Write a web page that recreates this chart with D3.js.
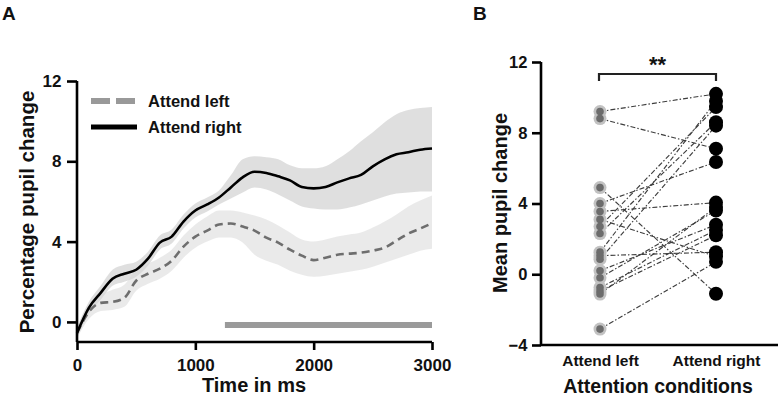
<!DOCTYPE html>
<html><head><meta charset="utf-8">
<script src="https://cdn.jsdelivr.net/npm/d3@7"></script>
<style>body{margin:0;background:#fff}svg{display:block}text{font-family:"Liberation Sans",Arial,sans-serif;font-weight:bold;fill:#111}</style>
</head><body><svg id="c" width="778" height="403"></svg>
<script>
// ---- Panel A data ----
const timeMs = [0,100,200,300,400,500,600,700,800,900,1000,1100,1200,1300,1400,1500,1600,1700,1800,1900,2000,2100,2200,2300,2400,2500,2600,2700,2800,2900,3000];
const rightMean = [-0.55,0.7,1.45,2.15,2.4,2.6,3.15,3.95,4.25,5.0,5.55,5.85,6.2,6.7,7.2,7.48,7.42,7.25,7.05,6.72,6.65,6.72,6.95,7.15,7.32,7.75,8.1,8.35,8.45,8.58,8.64];
const rightUpper = [-0.3,1.0,1.8,2.6,2.85,3.0,3.5,4.3,4.6,5.35,5.9,6.2,6.55,7.3,8.1,8.25,8.2,8.1,7.8,7.65,7.65,7.75,8.1,8.5,9.0,9.45,9.95,10.35,10.55,10.65,10.7];
const rightLower = [-0.8,0.4,1.1,1.8,2.0,2.25,2.8,3.6,3.9,4.65,5.2,5.5,5.85,6.15,6.45,6.7,6.6,6.35,6.05,5.75,5.65,5.6,5.6,5.7,5.85,6.05,6.25,6.4,6.45,6.5,6.5];
const leftMean = [-0.55,0.5,0.95,1.0,1.2,2.05,2.4,2.65,3.05,3.75,4.25,4.55,4.85,4.9,4.75,4.55,4.2,3.95,3.6,3.3,3.08,3.2,3.35,3.4,3.45,3.55,3.7,4.05,4.4,4.65,4.92];
const leftUpper = [-0.3,0.9,1.35,1.6,1.85,2.6,2.9,3.2,3.6,4.3,4.85,5.25,5.55,5.55,5.45,5.3,5.1,4.8,4.45,4.1,4.0,4.1,4.25,4.35,4.45,4.7,5.0,5.35,5.75,6.05,6.3];
const leftLower = [-0.8,0.15,0.55,0.6,0.75,1.55,1.9,2.15,2.55,3.2,3.7,4.0,4.2,4.2,3.95,3.35,3.05,2.85,2.55,2.35,2.25,2.3,2.4,2.5,2.6,2.75,2.95,3.15,3.35,3.55,3.65];
const sigWindow = [1250, 3000];
const sigLevel = -0.15;
const xTicksA = [0,1000,2000,3000];
const yTicksA = [0,4,8,12];
const legendLabels = ["Attend left","Attend right"];

// ---- Panel B data ----
const conditions = ["Attend left","Attend right"];
const subjLeft  = [9.2,8.8,4.9,4.0,3.55,3.1,2.7,2.3,1.25,0.85,1.05,0.2,-0.2,-0.75,-0.95,-1.12,-3.1];
const subjRight = [10.2,7.1,-1.1,6.35,4.05,1.0,9.45,8.6,9.8,8.4,1.25,2.8,3.6,2.5,2.2,3.8,0.7];
const yTicksB = [-4,0,4,8,12];

const svg = d3.select("#c");

// ===== Panel A =====
const xA = d3.scaleLinear().domain([0,3000]).range([77,432]);
const yA = d3.scaleLinear().domain([-1,12]).range([342,81]);
const gA = svg.append("g");
const rows = timeMs.map((t,i)=>({t, rm:rightMean[i], ru:rightUpper[i], rl:rightLower[i], lm:leftMean[i], lu:leftUpper[i], ll:leftLower[i]}));
const area = (u,l)=>d3.area().x(d=>xA(d.t)).y0(d=>yA(d[l])).y1(d=>yA(d[u])).curve(d3.curveMonotoneX);
gA.append("path").datum(rows).attr("d",area("ru","rl")).attr("fill","#c4c4c4").attr("opacity",0.55);
gA.append("path").datum(rows).attr("d",area("lu","ll")).attr("fill","#d6d6d6").attr("opacity",0.5);
const line = k=>d3.line().x(d=>xA(d.t)).y(d=>yA(d[k])).curve(d3.curveMonotoneX);
gA.append("path").datum(rows).attr("d",line("lm")).attr("fill","none").attr("stroke","#6e6e6e").attr("stroke-width",2.6).attr("stroke-dasharray","8,5");
gA.append("path").datum(rows).attr("d",line("rm")).attr("fill","none").attr("stroke","#000").attr("stroke-width",2.6);
gA.append("line").attr("x1",xA(sigWindow[0])).attr("x2",xA(sigWindow[1])).attr("y1",yA(sigLevel)).attr("y2",yA(sigLevel)).attr("stroke","#9a9a9a").attr("stroke-width",6);

const axA_x = gA.append("g").attr("transform","translate(0,342)").call(d3.axisBottom(xA).tickValues(xTicksA).tickSize(8).tickSizeOuter(0).tickFormat(d3.format("d")));
const axA_y = gA.append("g").attr("transform","translate(77,0)").call(d3.axisLeft(yA).tickValues(yTicksA).tickSize(10).tickSizeOuter(0));
[axA_x,axA_y].forEach(a=>{a.select(".domain").attr("stroke","#000").attr("stroke-width",2.6);a.selectAll(".tick line").attr("stroke","#000").attr("stroke-width",2.6);a.selectAll(".tick text").style("font-size","17px").attr("fill","#111");});
axA_x.selectAll(".tick text").attr("dy","1.05em");
axA_y.selectAll(".tick text").attr("dx","-0.15em");
axA_x.select(".domain").attr("d","M77,0H432");
axA_y.select(".domain").attr("d","M0,81V342");

gA.append("text").attr("x",254).attr("y",392).attr("text-anchor","middle").style("font-size","20px").text("Time in ms");
gA.append("text").attr("transform","translate(34,212) rotate(-90)").attr("text-anchor","middle").style("font-size","20.5px").text("Percentage pupil change");
// legend
gA.append("line").attr("x1",91).attr("x2",135).attr("y1",101).attr("y2",101).attr("stroke","#999").attr("stroke-width",6).attr("stroke-dasharray","19,6");
gA.append("line").attr("x1",91).attr("x2",137).attr("y1",127).attr("y2",127).attr("stroke","#000").attr("stroke-width",5);
gA.append("text").attr("x",148).attr("y",107).style("font-size","16.5px").text(legendLabels[0]);
gA.append("text").attr("x",148).attr("y",133).style("font-size","16.5px").text(legendLabels[1]);
svg.append("text").attr("x",2).attr("y",20).style("font-size","19px").text("A");

// ===== Panel B =====
const xB = d3.scalePoint().domain(conditions).range([600,716]);
const yB = d3.scaleLinear().domain([-4,12]).range([345,62]);
const gB = svg.append("g");
const pairs = subjLeft.map((v,i)=>({l:v,r:subjRight[i]}));
gB.selectAll("line.pair").data(pairs).join("line").attr("class","pair")
  .attr("x1",xB(conditions[0])).attr("x2",xB(conditions[1]))
  .attr("y1",d=>yB(d.l)).attr("y2",d=>yB(d.r))
  .attr("stroke","#3e3e3e").attr("stroke-width",1.15).attr("stroke-dasharray","5,2,1.5,2");
gB.selectAll("circle.lo").data(subjLeft).join("circle").attr("class","lo").attr("cx",xB(conditions[0])).attr("cy",d=>yB(d)).attr("r",6.5).attr("fill","#c2c2c2");
gB.selectAll("circle.li").data(subjLeft).join("circle").attr("class","li").attr("cx",xB(conditions[0])).attr("cy",d=>yB(d)).attr("r",3.8).attr("fill","#6c6c6c");
gB.selectAll("circle.r").data(subjRight).join("circle").attr("class","r").attr("cx",xB(conditions[1])).attr("cy",d=>yB(d)).attr("r",7).attr("fill","#000");

const axB_y = gB.append("g").attr("transform","translate(541,0)").call(d3.axisLeft(yB).tickValues(yTicksB).tickSize(9).tickSizeOuter(0));
axB_y.select(".domain").attr("d","M0,62V345");
const axB_x = gB.append("g").attr("transform","translate(0,345)").call(d3.axisBottom(xB).tickSize(0).tickSizeOuter(0));
axB_x.select(".domain").attr("d","M541,0H778");
[axB_x,axB_y].forEach(a=>{a.select(".domain").attr("stroke","#000").attr("stroke-width",2.6);a.selectAll(".tick line").attr("stroke","#000").attr("stroke-width",2.6);a.selectAll(".tick text").attr("fill","#111");});
axB_y.selectAll(".tick text").style("font-size","16.5px").attr("dx","-0.1em");
axB_x.selectAll(".tick text").style("font-size","15.5px").attr("dy","1.15em");
gB.append("text").attr("x",658).attr("y",393).attr("text-anchor","middle").style("font-size","19.5px").text("Attention conditions");
gB.append("text").attr("transform","translate(507,203) rotate(-90)").attr("text-anchor","middle").style("font-size","20px").text("Mean pupil change");
// significance bracket
const bx0 = xB(conditions[0]) - 1, bx1 = xB(conditions[1]);
gB.append("path").attr("d",`M${bx0},81V74H${bx1}V81`).attr("fill","none").attr("stroke","#222").attr("stroke-width",2.2);
gB.append("text").attr("x",(bx0+bx1)/2).attr("y",72).attr("text-anchor","middle").style("font-size","22px").text("**");
svg.append("text").attr("x",473).attr("y",20).style("font-size","19px").text("B");
</script></body></html>
